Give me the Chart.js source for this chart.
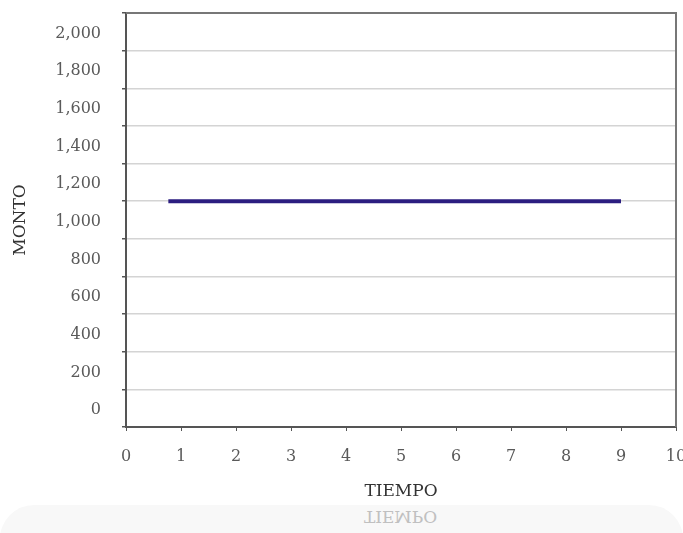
<!DOCTYPE html>
<html>
<head>
<meta charset="utf-8">
<script src="https://cdn.jsdelivr.net/npm/chart.js@4"></script>
<style>
  body { margin: 0; background: #fff; }
  #caja { position: relative; width: 683px; height: 533px; overflow: hidden; }
  #banda { position: absolute; left: 0; top: 505px; width: 683px; height: 40px;
           background: #f8f8f8; border-radius: 34px 34px 0 0; }
  #reflejo { position: absolute; left: 0; top: 507px; width: 683px; text-align: center;
             padding-left: 118px; box-sizing: border-box;
             font: 17px "DejaVu Serif", serif; color: #c0c0c0; transform: scaleY(-1); }
  #myChart { position: absolute; left: 0; top: 0; }
</style>
</head>
<body>
<div id="caja">
  <div id="banda"></div>
  <div id="reflejo">TIEMPO</div>
  <canvas id="myChart" width="683" height="533"></canvas>
</div>
<script>
let tiempo = [0.77, 9];
let monto = [1200, 1200];
let etiquetasMonto = [0, 200, 400, 600, 800, 1000, 1200, 1400, 1600, 1800, 2000];
let etiquetasTiempo = [0, 1, 2, 3, 4, 5, 6, 7, 8, 9, 10];

let myChart = document.getElementById("myChart");
let fuente = { family: "DejaVu Serif", size: 16 };
let fuenteTitulo = { family: "DejaVu Serif", size: 17 };

// marco gris arriba y a la derecha
const marco = {
    id: "marco",
    afterDraw(chart){
        let a = chart.chartArea;
        let ctx = chart.ctx;
        ctx.save();
        ctx.strokeStyle = "#777";
        ctx.lineWidth = 2;
        ctx.beginPath();
        ctx.moveTo(a.left, a.top);
        ctx.lineTo(a.right, a.top);
        ctx.lineTo(a.right, a.bottom);
        ctx.stroke();
        ctx.restore();
    }
};

const data = tiempo.map((t, i) => ({ x: t, y: monto[i] }));

const conf = {
    type: "line",
    data: {
        datasets: [
            {
                label: "Monto",
                data,
                borderColor: "#2b1d80",
                borderWidth: 4,
                pointRadius: 0,
                borderCapStyle: "butt"
            }
        ]
    },
    options: {
        responsive: false,
        animation: false,
        layout: { padding: { left: 10, right: 7, top: 13, bottom: 31 } },
        plugins: { legend: { display: false }, tooltip: { enabled: false } },
        scales: {
            x: {
                type: "linear",
                min: 0,
                max: 10,
                afterBuildTicks: scale => { scale.ticks = etiquetasTiempo.map(v => ({ value: v })); },
                afterFit: scale => { scale.height = 75; scale.paddingLeft = 0; scale.paddingRight = 0; },
                grid: { drawOnChartArea: false, tickLength: 4, tickColor: "#555" },
                border: { color: "#555", width: 2 },
                ticks: { color: "#5a5a5a", font: fuente, padding: 16, maxRotation: 0 },
                title: { display: true, text: "TIEMPO", color: "#333", font: fuenteTitulo, padding: 0 }
            },
            y: {
                min: 0,
                max: 2200,
                afterBuildTicks: scale => { scale.ticks = etiquetasMonto.concat([2200]).map(v => ({ value: v })); },
                afterFit: scale => { scale.width = 116; scale.paddingTop = 0; scale.paddingBottom = 0; },
                grid: { color: "#d4d4d4", lineWidth: 1.5, tickLength: 4, tickColor: "#555" },
                border: { color: "#555", width: 2 },
                ticks: {
                    color: "#5a5a5a",
                    font: fuente,
                    padding: 21,
                    labelOffset: -17,
                    callback: v => etiquetasMonto.includes(v) ? v.toLocaleString("en-US") : ""
                },
                title: { display: true, text: "MONTO", color: "#333", font: fuenteTitulo, padding: 0 }
            }
        }
    },
    plugins: [marco]
};

let grafico = new Chart(myChart, conf);
</script>
</body>
</html>
